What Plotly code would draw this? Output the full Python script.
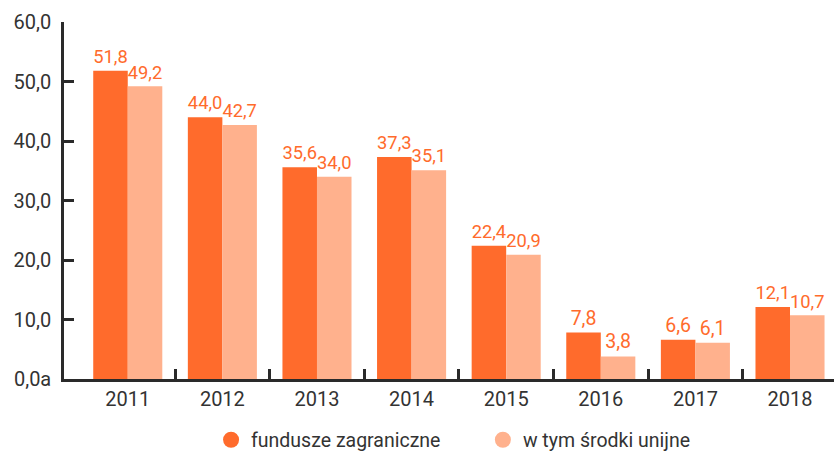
import plotly.graph_objects as go

# Roczne wartości (mld zł)
years = ["2011", "2012", "2013", "2014", "2015", "2016", "2017", "2018"]
fundusze_zagraniczne = [51.8, 44.0, 35.6, 37.3, 22.4, 7.8, 6.6, 12.1]
srodki_unijne = [49.2, 42.7, 34.0, 35.1, 20.9, 3.8, 6.1, 10.7]

y_tick_vals = [0, 10, 20, 30, 40, 50, 60]
y_tick_text = ["0,0a", "10,0", "20,0", "30,0", "40,0", "50,0", "60,0"]

DARK = "#FF6B2C"
LIGHT = "#FFB18D"
AXIS = "#2a2a2a"
TEXT = "#333333"
FONT = "Roboto"

idx = list(range(len(years)))
boundaries = [i + 0.5 for i in idx[:-1]]
x_range = [-0.674, 7.465]

fig = go.Figure()
fig.add_trace(go.Bar(
    x=idx, y=fundusze_zagraniczne, name="fundusze zagraniczne",
    marker=dict(color=DARK, line=dict(width=0)),
    texttemplate="%{y:.1f}", textposition="outside",
    textfont=dict(color=DARK, size=19.5, family=FONT),
    cliponaxis=False, showlegend=False,
))
fig.add_trace(go.Bar(
    x=idx, y=srodki_unijne, name="w tym środki unijne",
    marker=dict(color=LIGHT, line=dict(width=0)),
    texttemplate="%{y:.1f}", textposition="outside",
    textfont=dict(color=DARK, size=19.5, family=FONT),
    cliponaxis=False, showlegend=False,
))

# legend entries with round markers, on the overlay axis that carries the boundary ticks
for name, color, leg in [("fundusze zagraniczne", DARK, "legend"),
                         ("w tym środki unijne", LIGHT, "legend2")]:
    fig.add_trace(go.Scatter(
        x=[None], y=[None], mode="markers", name=name,
        marker=dict(symbol="circle", size=18, color=color),
        xaxis="x2", showlegend=True, legend=leg,
    ))

legend_style = dict(
    orientation="h", y=-0.171, yanchor="middle", xanchor="left",
    font=dict(size=19.5, color=TEXT, family=FONT),
    itemwidth=30, bgcolor="rgba(0,0,0,0)",
)

fig.update_layout(
    width=834, height=452,
    margin=dict(l=64, r=0, t=22, b=73, autoexpand=False),
    paper_bgcolor="white", plot_bgcolor="white",
    barmode="group", bargap=0.27, bargroupgap=0,
    separators=", ",
    font=dict(family=FONT, size=20, color=TEXT),
    xaxis=dict(
        range=x_range, tickmode="array", tickvals=idx, ticktext=years,
        showline=True, linecolor=AXIS, linewidth=2.5,
        ticks="", showgrid=False, zeroline=False, automargin=False,
        tickfont=dict(size=20, color=TEXT),
    ),
    xaxis2=dict(
        range=x_range, overlaying="x", anchor="y", side="bottom",
        tickmode="array", tickvals=boundaries, showticklabels=False,
        ticks="inside", ticklen=10, tickwidth=2.5, tickcolor=AXIS,
        showline=False, showgrid=False, zeroline=False, automargin=False,
    ),
    yaxis=dict(
        range=[0, 60], tickmode="array", tickvals=y_tick_vals, ticktext=y_tick_text,
        showline=True, linecolor=AXIS, linewidth=2.5,
        ticks="inside", ticklen=10, tickwidth=2.5, tickcolor=AXIS,
        showgrid=False, zeroline=False, automargin=False,
        ticklabelstandoff=6,
        tickfont=dict(size=20, color=TEXT),
    ),
    legend=dict(x=0.191, **legend_style),
    legend2=dict(x=0.544, **legend_style),
)

fig.write_html("out.html")
